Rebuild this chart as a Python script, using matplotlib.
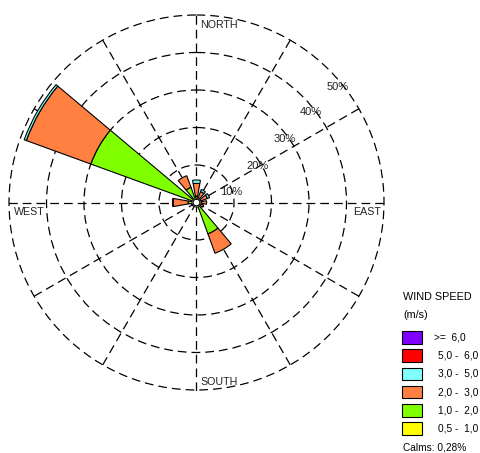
import numpy as np
import matplotlib
matplotlib.use("Agg")
import matplotlib.pyplot as plt
from matplotlib.patches import Rectangle

plt.rcParams['font.family'] = ['Liberation Sans', 'DejaVu Sans']

# wind directions (deg from north) and frequency (%) per speed class
directions = [0, 30, 60, 90, 120, 150, 180, 210, 240, 270, 300, 330]
spd_05_1 = [0.0, 0.0, 0.0, 0.0, 0.0, 0.1, 0.0, 0.0, 0.0, 0.0, 0.1, 0.0]
spd_1_2 = [0.8, 0.4, 0.3, 0.3, 0.3, 7.9, 0.3, 0.3, 0.3, 1.3, 29.0, 3.4]
spd_2_3 = [3.4, 1.8, 1.9, 1.5, 0.8, 5.5, 0.0, 0.0, 0.2, 4.0, 18.3, 3.3]
spd_3_5 = [0.9, 0.6, 0.6, 0.0, 0.0, 0.0, 0.0, 0.0, 0.0, 0.0, 0.6, 0.0]
spd_5_6 = [0.0, 0.0, 0.0, 0.0, 0.0, 0.0, 0.0, 0.0, 0.0, 0.0, 0.0, 0.0]
spd_6 = [0.0, 0.0, 0.0, 0.0, 0.0, 0.0, 0.0, 0.0, 0.0, 0.2, 0.0, 0.0]
calms = 0.28

classes = [spd_05_1, spd_1_2, spd_2_3, spd_3_5, spd_5_6, spd_6]
class_colors = ['#FFFF00', '#80FF00', '#FF8040', '#80FFFF', '#FF0000', '#8000FF']
legend_labels = ['>=  6,0', '5,0 -  6,0', '3,0 -  5,0', '2,0 -  3,0', '1,0 -  2,0', '0,5 -  1,0']
legend_colors = class_colors[::-1]
ring_vals = [10, 20, 30, 40, 50]
ring_labels = ['10%', '20%', '30%', '40%', '50%']
compass = ['NORTH', 'SOUTH', 'WEST', 'EAST']

W, H = 480, 453
fig = plt.figure(figsize=(W / 100, H / 100), dpi=100)

# polar axes: centre (196.5, 202.5) px, 50% ring at 187.5 px
rmax = 50.3
R = 187.5 * rmax / 50
cx, cy = 196.5, 202.5
ax = fig.add_axes([(cx - R) / W, (H - cy - R) / H, 2 * R / W, 2 * R / H],
                  projection='polar')
ax.set_theta_zero_location('N')
ax.set_theta_direction(-1)
ax.set_ylim(0, rmax)
ax.set_rgrids(ring_vals, labels=[''] * len(ring_vals))
ax.set_thetagrids(np.arange(0, 360, 30), labels=[''] * 12)
ax.grid(True, color='black', linewidth=0.9, linestyle=(0, (7, 4)))
ax.spines['polar'].set_visible(False)
ax.set_axisbelow(True)
ax.tick_params(length=0)

calm_r = 0.9
theta = np.deg2rad(directions)
width = np.deg2rad(20)
bottom = np.full(len(directions), calm_r)
for vals, col in zip(classes, class_colors):
    vals = np.array(vals)
    mask = vals > 0
    ax.bar(theta[mask], vals[mask], width=width, bottom=bottom[mask],
           color=col, edgecolor='black', linewidth=0.8, zorder=3)
    bottom = bottom + vals

t = np.linspace(0, 2 * np.pi, 60)
ax.fill(t, np.full_like(t, calm_r), color='white', zorder=4)
ax.plot(t, np.full_like(t, calm_r), color='black', linewidth=0.8, zorder=5)

# ring labels
ring_pos = [(231, 192.3), (258, 165.7), (284.7, 139), (311, 112.3), (337.5, 86.7)]
for lab, (x, y) in zip(ring_labels, ring_pos):
    fig.text(x / W, 1 - y / H, lab, ha='center', va='center', fontsize=8, color='#222222')

# compass labels
comp_pos = [(200, 25, 'left'), (200, 382, 'left'), (14, 212, 'left'), (381, 212, 'right')]
for lab, (x, y, ha) in zip(compass, comp_pos):
    fig.text(x / W, 1 - y / H, lab, ha=ha, va='center', fontsize=7.7, color='#222222')

# legend
fig.text(403 / W, 1 - 297 / H, 'WIND SPEED', ha='left', va='center', fontsize=7.8)
fig.text(403 / W, 1 - 315 / H, '(m/s)', ha='left', va='center', fontsize=7.8)
for i, (lab, col) in enumerate(zip(legend_labels, legend_colors)):
    yc = 337.3 + i * 18.25
    fig.patches.append(Rectangle((402 / W, 1 - (yc + 6.3) / H), 20 / W, 12.6 / H,
                                 transform=fig.transFigure, facecolor=col,
                                 edgecolor='black', linewidth=0.8))
    fig.text(437.5 / W if i else 434 / W, 1 - yc / H, lab, ha='left', va='center', fontsize=7.3)
fig.text(403 / W, 1 - 448 / H, 'Calms: %s%%' % str(calms).replace('.', ','),
         ha='left', va='center', fontsize=7.3)

fig.savefig('out.png', dpi=100)
